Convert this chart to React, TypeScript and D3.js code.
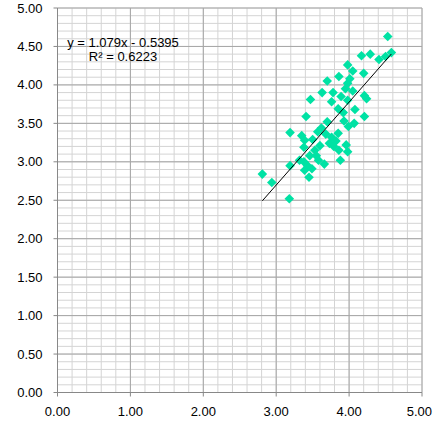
import React from "react";
import * as d3 from "d3";

const xs = [4.53,4.58,4.17,4.29,4.41,4.50,3.98,4.05,4.20,3.86,4.01,3.70,3.98,3.95,4.05,3.63,3.78,3.89,4.21,4.24,3.47,3.76,3.98,3.85,4.08,3.41,4.21,3.93,4.07,3.70,3.62,3.57,3.19,3.35,3.85,3.76,3.39,3.73,3.38,3.53,3.79,3.96,3.86,3.98,3.46,3.55,3.38,3.43,3.66,3.88,3.19,3.39,3.45,2.81,2.94,3.18,3.50,3.60,3.32,3.49,3.92,3.68,3.82,3.99,3.58];
const ys = [4.63,4.42,4.38,4.40,4.33,4.37,4.26,4.18,4.15,4.11,4.08,4.05,4.02,3.95,3.92,3.90,3.90,3.85,3.86,3.82,3.81,3.78,3.80,3.69,3.68,3.59,3.59,3.53,3.50,3.52,3.44,3.39,3.38,3.34,3.37,3.32,3.28,3.24,3.19,3.15,3.20,3.22,3.15,3.13,3.08,3.08,3.00,2.95,2.97,3.02,2.95,2.89,2.80,2.84,2.73,2.52,3.29,3.21,3.02,2.91,3.64,3.36,3.27,3.46,3.02];
const slope = 1.079;
const intercept = -0.5395;
const eqLines = ["y = 1.079x - 0.5395", "R² = 0.6223"];
const xTicks = [0, 1, 2, 3, 4, 5];
const yTicks = [0, 0.5, 1, 1.5, 2, 2.5, 3, 3.5, 4, 4.5, 5];

export default function App() {
  const W = 433, H = 424;
  const x = d3.scaleLinear().domain([0, 5]).range([57.5, 422]);
  const y = d3.scaleLinear().domain([0, 5]).range([392.5, 8]);
  const minorX = d3.range(0, 5.0001, 0.2);
  const minorY = d3.range(0, 5.0001, 0.1);
  const xmin = d3.min(xs)!, xmax = d3.max(xs)!;
  const font = "'Liberation Sans', Arial, sans-serif";
  const r = 4.8;
  return (
    <svg width={W} height={H} style={{ position: "absolute", left: 0, top: 0, background: "#fff" }}>
      <rect x={0} y={0} width={W} height={H} fill="#fff" />
      {minorX.map((v, i) => (
        <line key={"mx" + i} x1={x(v)} x2={x(v)} y1={y(0)} y2={y(5)} stroke="#d4d4d4" strokeWidth={1} />
      ))}
      {minorY.map((v, i) => (
        <line key={"my" + i} x1={x(0)} x2={x(5)} y1={y(v)} y2={y(v)} stroke="#d4d4d4" strokeWidth={1} />
      ))}
      {xTicks.map((v) => (
        <line key={"Mx" + v} x1={x(v)} x2={x(v)} y1={y(0)} y2={y(5)} stroke="#a6a6a6" strokeWidth={1} />
      ))}
      {yTicks.map((v) => (
        <line key={"My" + v} x1={x(0)} x2={x(5)} y1={y(v)} y2={y(v)} stroke="#a6a6a6" strokeWidth={1} />
      ))}
      <line x1={x(0)} x2={x(0)} y1={y(0)} y2={y(5)} stroke="#888" />
      <line x1={x(0)} x2={x(5)} y1={y(0)} y2={y(0)} stroke="#888" />
      {yTicks.map((v) => (
        <g key={"yt" + v}>
          <line x1={x(0) - 4} x2={x(0)} y1={y(v)} y2={y(v)} stroke="#888" />
          <text x={42.5} y={y(v) + 4.5} textAnchor="end" fontFamily={font} fontSize={13} fill="#000">
            {v.toFixed(2)}
          </text>
        </g>
      ))}
      {xTicks.map((v, i) => {
        const last = i === xTicks.length - 1;
        return (
          <g key={"xt" + v}>
            <line x1={x(v)} x2={x(v)} y1={y(0)} y2={y(0) + 4} stroke="#888" />
            <text x={last ? W - 1 : x(v)} y={416} textAnchor={last ? "end" : "middle"} fontFamily={font} fontSize={13} fill="#000">
              {v.toFixed(2)}
            </text>
          </g>
        );
      })}
      {xs.map((xv, i) => {
        const cx = x(xv), cy = y(ys[i]);
        return (
          <path key={"p" + i} d={`M${cx},${cy - r}L${cx + r},${cy}L${cx},${cy + r}L${cx - r},${cy}Z`} fill="#00E2A4" />
        );
      })}
      <line
        x1={x(xmin)} y1={y(slope * xmin + intercept)}
        x2={x(xmax)} y2={y(slope * xmax + intercept)}
        stroke="#000" strokeWidth={1}
      />
      {eqLines.map((t, i) => (
        <text key={t} x={123} y={47 + i * 14} textAnchor="middle" fontFamily={font} fontSize={13} fill="#000">
          {t}
        </text>
      ))}
    </svg>
  );
}
